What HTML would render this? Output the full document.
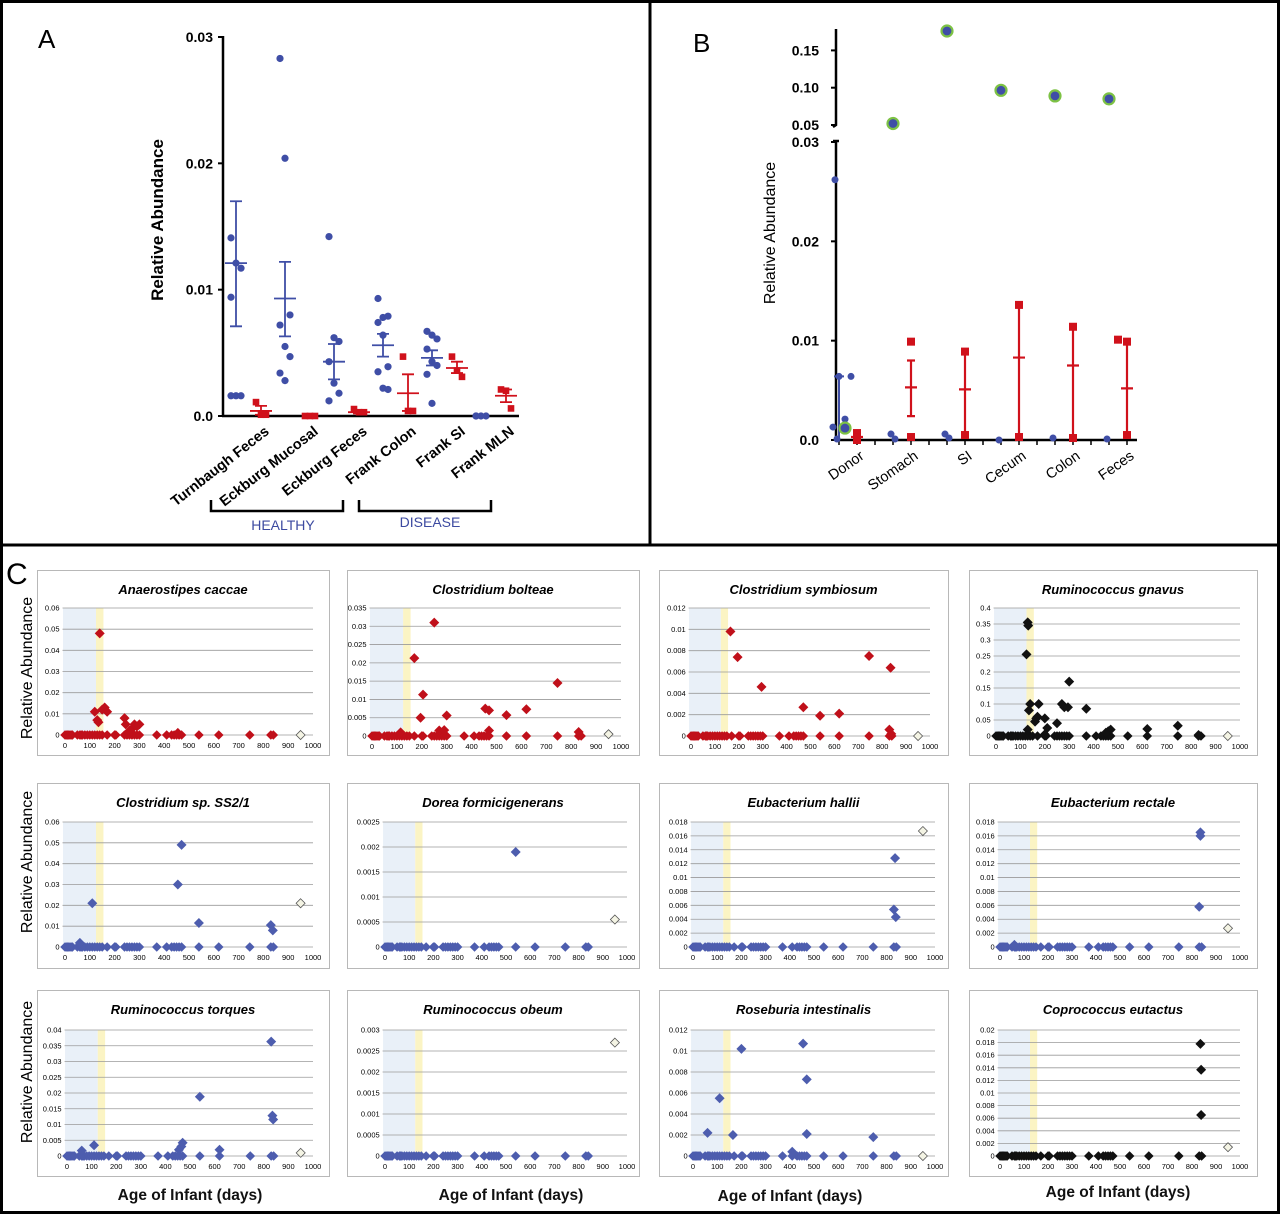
<!DOCTYPE html>
<html><head><meta charset="utf-8"><style>
html,body{margin:0;padding:0;background:#fff}
svg{display:block;font-family:"Liberation Sans",sans-serif}
</style></head><body>
<svg id="fig" width="1280" height="1214" viewBox="0 0 1280 1214" xmlns="http://www.w3.org/2000/svg">
<rect x="0" y="0" width="1280" height="1214" fill="#fff"/>
<rect x="1.5" y="1.5" width="1277" height="1211" fill="none" stroke="#000" stroke-width="3"/>
<line x1="650" y1="0" x2="650" y2="545" stroke="#000" stroke-width="3"/>
<line x1="0" y1="545" x2="1280" y2="545" stroke="#000" stroke-width="3"/>
<text x="38" y="48" font-size="26">A</text>
<text x="693" y="52" font-size="26">B</text>
<text x="6" y="584" font-size="30">C</text>
<g id="ga"></g><g id="gb"></g><g id="gc"></g>
</svg>
<script>
// ---------- Panel A data ----------
const aCats = ["Turnbaugh Feces","Eckburg Mucosal","Eckburg Feces","Frank Colon","Frank SI","Frank MLN"];
const aBluePts = [[0.0141,0.0121,0.0117,0.0094,0.0016,0.0016,0.0016],[0.0283,0.0204,0.008,0.0072,0.0055,0.0047,0.0034,0.0028],[0.0142,0.0062,0.0059,0.0043,0.0026,0.0018,0.0012],[0.0093,0.0078,0.0079,0.0074,0.0064,0.0039,0.0035,0.0022,0.0021],[0.0067,0.0064,0.0061,0.0053,0.0043,0.004,0.0033,0.001],[0,0,0,0]];
const aBlueMean = [0.0121,0.0093,0.0043,0.0056,0.0046,0];
const aBlueHi = [0.0170,0.0122,0.0057,0.0065,0.0052,0];
const aBlueLo = [0.0071,0.0063,0.0029,0.0047,0.0040,0];
const aRedPts = [[0.0011,0.0001,0.0001],[0,0,0],[0.00055,0.0003,0.0003],[0.0047,0.0004,0.0004],[0.0047,0.0036,0.0031],[0.0021,0.002,0.0006]];
const aRedMean = [0.0004,0,0.0003,0.0018,0.0038,0.0016];
const aRedHi = [0.0008,0,0.0004,0.0033,0.0043,0.0021];
const aRedLo = [0.0001,0,0.0002,0.0004,0.0034,0.0011];
const aTicks = [0,0.01,0.02,0.03];
const aTickLabels = ["0.0","0.01","0.02","0.03"];
// ---------- Panel B data ----------
const bCats = ["Donor","Stomach","SI","Cecum","Colon","Feces"];
const bBluePts = [[0.0262,0.0064,0.0064,0.0021,0.0013,0.0001],[0.0006,0.0001],[0.0006,0.0002],[0],[0.0002],[0.0001]];
const bOutliers = [0.0012,0.052,0.176,0.0965,0.089,0.085];
const bRedPts = [[0.0007,0.0003,0],[0.0099,0.0003],[0.0089,0.0005],[0.0136,0.0003],[0.0114,0.0002],[0.0101,0.0099,0.0005]];
const bRedMean = [0.0003,0.0053,0.0051,0.0083,0.0075,0.0052];
const bRedHi = [0.0007,0.008,0.0089,0.0136,0.0114,0.0099];
const bRedLo = [0,0.0024,0.0005,0.0003,0.0002,0.0005];
const bTicksLow = [0,0.01,0.02,0.03];
const bTickLabelsLow = ["0.0","0.01","0.02","0.03"];
const bTicksHigh = [0.05,0.10,0.15];
const bTickLabelsHigh = ["0.05","0.10","0.15"];
// ---------- Panel C data ----------
const cTitles = ["Anaerostipes caccae","Clostridium bolteae","Clostridium symbiosum","Ruminococcus gnavus","Clostridium sp. SS2/1","Dorea formicigenerans","Eubacterium hallii","Eubacterium rectale","Ruminococcus torques","Ruminococcus obeum","Roseburia intestinalis","Coprococcus eutactus"];
const cYMax = [0.06,0.035,0.012,0.4,0.06,0.0025,0.018,0.018,0.04,0.003,0.012,0.02];
const cYStep = [0.01,0.005,0.002,0.05,0.01,0.0005,0.002,0.002,0.005,0.0005,0.002,0.002];
const cXTicks = [0,100,200,300,400,500,600,700,800,900,1000];
const cBaseX = [0,5,10,15,20,25,30,50,60,65,70,80,90,100,110,120,130,140,150,170,200,205,240,250,260,270,280,290,300,370,410,430,440,450,460,470,540,620,745,830,840];
const c1X=[140,120,130,135,150,160,170,240,245,270,280,290,300,260,455];
const c1Y=[0.048,0.011,0.007,0.006,0.012,0.013,0.011,0.008,0.005,0.003,0.005,0.004,0.005,0.002,0.001];
const c2X=[250,170,205,195,300,455,470,540,620,745,470,270,290,830,115];
const c2Y=[0.031,0.0213,0.0113,0.005,0.0056,0.0075,0.007,0.0057,0.0073,0.0145,0.0015,0.0015,0.0016,0.0011,0.001];
const c3X=[165,195,295,470,540,620,745,835,830,838];
const c3Y=[0.0098,0.0074,0.0046,0.0027,0.0019,0.0021,0.0075,0.0064,0.0006,0.0002];
const c4X=[130,132,125,140,135,130,160,165,175,170,200,210,250,270,280,295,300,370,200,460,470,450,620,745,830];
const c4Y=[0.355,0.345,0.255,0.1,0.08,0.02,0.045,0.055,0.1,0.06,0.055,0.025,0.04,0.1,0.09,0.09,0.17,0.085,0.005,0.015,0.02,0.01,0.022,0.032,0.003];
const c5X=[110,455,470,540,830,838,60]; const c5Y=[0.021,0.03,0.049,0.0115,0.0105,0.008,0.002];
const c6X=[540]; const c6Y=[0.0019];
const c7X=[835,830,838]; const c7Y=[0.0128,0.0054,0.0043];
const c8X=[835,835,830,60]; const c8Y=[0.0165,0.016,0.0058,0.0003];
const c9X=[830,540,835,838,110,60,470,465,455,620]; const c9Y=[0.0363,0.0188,0.0128,0.0116,0.0034,0.0017,0.0042,0.003,0.002,0.002];
const c10X=[]; const c10Y=[];
const c11X=[455,200,470,110,60,165,470,745,410]; const c11Y=[0.0107,0.0102,0.0073,0.0055,0.0022,0.002,0.0021,0.0018,0.0004];
const c12X=[835,838,838]; const c12Y=[0.0178,0.0137,0.0065];
const cHollowY = [0,0.0005,0,0,0.021,0.00055,0.0167,0.0027,0.001,0.0027,0,0.0014];
const cHollowX = [950,950,950,950,950,950,950,950,950,950,950,950];
const cColors = ["#c0101a","#c0101a","#c0101a","#111","#4d5dae","#4d5dae","#4d5dae","#4d5dae","#4d5dae","#4d5dae","#4d5dae","#111"];
const cPts = [[c1X,c1Y],[c2X,c2Y],[c3X,c3Y],[c4X,c4Y],[c5X,c5Y],[c6X,c6Y],[c7X,c7Y],[c8X,c8Y],[c9X,c9Y],[c10X,c10Y],[c11X,c11Y],[c12X,c12Y]];

const NS="http://www.w3.org/2000/svg";
function mk(tag,attrs,parent){const e=document.createElementNS(NS,tag);for(const k in attrs)e.setAttribute(k,attrs[k]);parent.appendChild(e);return e;}
const BLUE="#3f4ea6", RED="#d0111b";

// ================= Panel A =================
(function(){
const g=document.getElementById('ga');
const yA=v=>416-v/0.03*(416-37);
const xBlue=i=>236+i*49, xRed=i=>261+i*49;
let ax=mk('line',{x1:223,y1:36,x2:223,y2:417,stroke:'#000','stroke-width':2.5},g);


let bx=mk('line',{x1:222,y1:416,x2:519,y2:416,stroke:'#000','stroke-width':2.5},g);


aTicks.forEach((v,i)=>{
 const t=mk('line',{x1:218,y1:yA(v),x2:223,y2:yA(v),stroke:'#000','stroke-width':2},g);
 
 
 const l=mk('text',{x:213,y:yA(v)+5,'text-anchor':'end','font-size':14,'font-weight':'bold'},g);
 l.textContent=aTickLabels[i];
 
 
});
const yt=mk('text',{x:0,y:0,'text-anchor':'middle','font-size':17,'font-weight':'bold',transform:'translate(163,220) rotate(-90)'},g);
yt.textContent='Relative Abundance';


function errbar(x,m,hi,lo,col,name){
 const p=mk('path',{d:`M${x},${yA(hi)}V${yA(lo)}M${x-6},${yA(hi)}H${x+6}M${x-6},${yA(lo)}H${x+6}M${x-11},${yA(m)}H${x+11}`,stroke:col,'stroke-width':1.8,fill:'none'},g);
 
 
}
aCats.forEach((c,i)=>{
 aBluePts[i].forEach((v,j)=>{
  const off=((j%3)-1)*5;
  const d=mk('circle',{cx:xBlue(i)+off,cy:yA(v),r:3.6,fill:BLUE},g);
  
  
 });
 if(aBlueMean[i]>0) errbar(xBlue(i),aBlueMean[i],aBlueHi[i],aBlueLo[i],BLUE,'a-blue-mean-sem');
 aRedPts[i].forEach((v,j)=>{
  const off=((j%3)-1)*5;
  const s=mk('rect',{x:xRed(i)+off-3.3,y:yA(v)-3.3,width:6.6,height:6.6,fill:RED},g);
  
  
 });
 if(aRedMean[i]>0) errbar(xRed(i),aRedMean[i],aRedHi[i],aRedLo[i],RED,'a-red-mean-sem');
 const l=mk('text',{x:0,y:0,'text-anchor':'end','font-size':14.5,'font-weight':'bold',transform:`translate(${xBlue(i)+34},${433}) rotate(-38)`},g);
 l.textContent=c;
 
 
});
const b1=mk('path',{d:'M211,500V511H343V500',stroke:'#000','stroke-width':2.5,fill:'none'},g);


const b2=mk('path',{d:'M359,500V511H491V500',stroke:'#000','stroke-width':2.5,fill:'none'},g);


const h=mk('text',{x:283,y:530,'text-anchor':'middle','font-size':14,fill:'#3c4aa0'},g);
h.textContent='HEALTHY';


const d2=mk('text',{x:430,y:527,'text-anchor':'middle','font-size':14,fill:'#3c4aa0'},g);
d2.textContent='DISEASE';


})();

// ================= Panel B =================
(function(){
const g=document.getElementById('gb');
const yB=v=>440-v/0.03*(440-142);
const yT=v=>125-(v-0.05)/0.1*(125-50.4);
const yAny=v=>v>0.03?yT(v):yB(v);
const xb=i=>839+i*54, xr=i=>857+i*54;
const a1=mk('path',{d:'M836,29V125l-3,2M836,140V441',stroke:'#000','stroke-width':2.5,fill:'none'},g);


const a2=mk('path',{d:'M833,141H839',stroke:'#000','stroke-width':2.5},g);


const a3=mk('line',{x1:835,y1:440,x2:1137,y2:440,stroke:'#000','stroke-width':2.5},g);


for(let i=0;i<=16;i++){
 const t=mk('line',{x1:839+i*18,y1:440,x2:839+i*18,y2:445,stroke:'#000','stroke-width':1.5},g);
 
 
}
function ytick(v,lab,yf){
 const t=mk('line',{x1:831,y1:yf(v),x2:836,y2:yf(v),stroke:'#000','stroke-width':2},g);
 
 
 const l=mk('text',{x:819,y:yf(v)+5,'text-anchor':'end','font-size':14,'font-weight':'bold'},g);
 l.textContent=lab;
 
 
}
bTicksLow.forEach((v,i)=>ytick(v,bTickLabelsLow[i],yB));
bTicksHigh.forEach((v,i)=>ytick(v,bTickLabelsHigh[i],yT));
const yt=mk('text',{x:0,y:0,'text-anchor':'middle','font-size':16,transform:'translate(775,233) rotate(-90)'},g);
yt.textContent='Relative Abundance';


const dl=mk('path',{d:`M${xb(0)},${yB(0.0064)}V${yB(0)}M${xb(0)-5},${yB(0.0064)}H${xb(0)+5}`,stroke:BLUE,'stroke-width':2,fill:'none'},g);


bCats.forEach((c,i)=>{
 bBluePts[i].forEach((v,j)=>{
  const off=i===0?[-4,0,12,6,-6,-2][j]:((j%2)*4-2);
  const d=mk('circle',{cx:xb(i)+off,cy:yB(v),r:3.5,fill:BLUE},g);
  
  
 });
 const o=mk('circle',{cx:xb(i)+(i===0?6:0),cy:yAny(bOutliers[i]),r:5.5,fill:BLUE,stroke:'#7dc244','stroke-width':2.2},g);
 
 
 const eb=mk('path',{d:`M${xr(i)},${yB(bRedHi[i])}V${yB(bRedLo[i])}M${xr(i)-4},${yB(bRedHi[i])}H${xr(i)+4}M${xr(i)-4},${yB(bRedLo[i])}H${xr(i)+4}M${xr(i)-6},${yB(bRedMean[i])}H${xr(i)+6}`,stroke:RED,'stroke-width':2.2,fill:'none'},g);
 
 
 bRedPts[i].forEach((v,j)=>{
  const off=(i===5&&j===0)?-9:0;
  const s=mk('rect',{x:xr(i)+off-4,y:yB(v)-4,width:8,height:8,fill:RED},g);
  
  
 });
 const l=mk('text',{x:0,y:0,'text-anchor':'end','font-size':14.5,transform:`translate(${xb(i)+26},${458}) rotate(-35)`},g);
 l.textContent=c;
 
 
});
})();

// ================= Panel C =================
(function(){
const g=document.getElementById('gc');
const boxes=[[37,570,292,185],[347,570,292,185],[659,570,289,185],[969,570,288,185],
 [37,783,292,185],[347,783,292,185],[659,783,289,185],[969,783,288,185],
 [37,990,292,186],[347,990,292,186],[659,990,289,186],[969,990,288,186]];
const x0s=[65,372,691,996,65,385,693,1000,67,385,693,1000];
const x1s=[313,621,930,1240,313,627,935,1240,313,627,935,1240];
const tops=[608,608,608,608,822,822,822,822,1030,1030,1030,1030];
const bots=[735,736,736,736,947,947,947,947,1156,1156,1156,1156];
function fmt(v){return String(parseFloat(v.toPrecision(6)));}
cTitles.forEach((title,k)=>{
 const [bx,by,bw,bh]=boxes[k];
 const xs=v=>x0s[k]+v/1000*(x1s[k]-x0s[k]);
 const ys=v=>bots[k]-v/cYMax[k]*(bots[k]-tops[k]);
 const cg=mk('g',{},g);
 
 
 const r=mk('rect',{x:bx+0.5,y:by+0.5,width:bw,height:bh,fill:'#fff',stroke:'#b8b8b8','stroke-width':1},cg);
 
 
 const t=mk('text',{x:bx+bw/2,y:by+24,'text-anchor':'middle','font-size':13,'font-weight':'bold','font-style':'italic'},cg);
 t.textContent=title;
 
 
 const band=mk('rect',{x:xs(-8),y:tops[k],width:xs(125)-xs(-8),height:bots[k]-tops[k],fill:'#e9f0f8'},cg);
 
 
 const yb=mk('rect',{x:xs(125),y:tops[k],width:xs(155)-xs(125),height:bots[k]-tops[k],fill:'#fbf4c4'},cg);
 
 
 const n=Math.round(cYMax[k]/cYStep[k]);
 for(let i=0;i<=n;i++){
  const v=i*cYStep[k];
  const gl=mk('line',{x1:xs(-10),y1:ys(v),x2:xs(1000),y2:ys(v),stroke:'#9a9a9a','stroke-width':0.8},cg);
  
  
  const tl=mk('text',{x:xs(-22),y:ys(v)+2.5,'text-anchor':'end','font-size':7.5},cg);
  tl.textContent=fmt(v);
  
  
 }
 cXTicks.forEach(v=>{
  const tl=mk('text',{x:xs(v),y:bots[k]+13,'text-anchor':'middle','font-size':7.5},cg);
  tl.textContent=v;
  
  
 });
 const col=cColors[k];
 const dia=(x,y,s)=>`M${x},${y-s}L${x+s},${y}L${x},${y+s}L${x-s},${y}Z`;
 cBaseX.forEach(v=>{
  const p=mk('path',{d:dia(xs(v),ys(0),4.8),fill:col},cg);
  
  
 });
 const [px,py]=cPts[k];
 px.forEach((v,i)=>{
  const p=mk('path',{d:dia(xs(v),ys(py[i]),5),fill:col},cg);
  
  
 });
 const h=mk('path',{d:dia(xs(cHollowX[k]),ys(cHollowY[k]),4.5),fill:'#f4f4e4',stroke:'#555','stroke-width':0.8},cg);
 
 
});
[[27,668],[27,862],[27,1072]].forEach(([x,y])=>{
 const l=mk('text',{x:0,y:0,'text-anchor':'middle','font-size':16,transform:`translate(${x+5},${y}) rotate(-90)`},g);
 l.textContent='Relative Abundance';
 
 
});
[[190,1200],[511,1200],[790,1201],[1118,1197]].forEach(([x,y])=>{
 const l=mk('text',{x:x,y:y,'text-anchor':'middle','font-size':15.5,'font-weight':'bold','fill':'#111'},g);
 l.textContent='Age of Infant (days)';
 
 
});
})();
</script>
</body></html>
